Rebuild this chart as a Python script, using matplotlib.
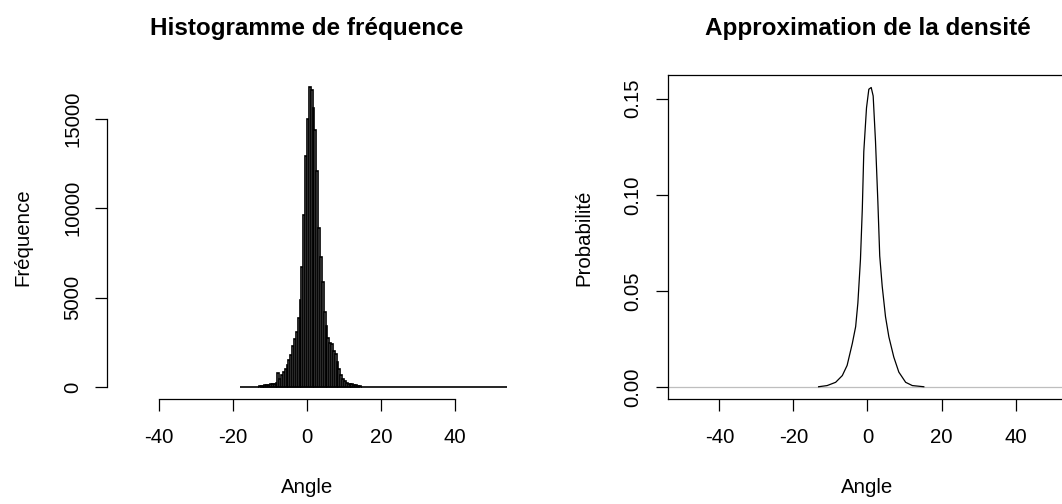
import numpy as np
import matplotlib

matplotlib.use("Agg")
import matplotlib.pyplot as plt

# Histogramme : bornes des classes (largeur 0.5) et effectifs
bin_start = -18.0
bin_end = 54.5
bin_width = 0.5
# effectifs non nuls, de -14.0 à 15.0
counts_left_edge = -14.0
counts = [
    20, 40, 60, 80, 90, 110, 120, 140, 170, 200, 210, 240,
    780, 460, 700, 880, 1050, 1250, 1550, 1800, 2300, 2700, 3100, 3850,
    4900, 6700, 9600, 12900, 15000, 16750, 16600, 15600, 14400, 12100,
    8900, 7300, 5900, 4200, 3450, 2750, 2500, 2400, 2050, 1850, 1400,
    1000, 700, 450, 330, 250, 210, 190, 170, 150, 130, 90, 60, 30,
]

# Densité estimée : points
dens_x = [-13.2, -10.9, -8.6, -6.8, -5.5, -4.1, -3.2, -2.6, -1.9, -1.4, -1.0,
          -0.27, 0.36, 1.0, 1.53, 2.16, 2.8, 3.3, 3.97, 4.86, 5.77, 7.1, 8.46,
          10.3, 12.1, 15.2]
dens_y = [0.0003, 0.0009, 0.0026, 0.0061, 0.0114, 0.0228, 0.0315, 0.0438,
          0.0665, 0.0928, 0.1225, 0.1452, 0.1549, 0.1558, 0.1514, 0.1278,
          0.0963, 0.0683, 0.0525, 0.0367, 0.0262, 0.0157, 0.0079, 0.0026,
          0.0009, 0.0003]

x_ticks = [-40, -20, 0, 20, 40]
hist_y_ticks = [0, 5000, 10000, 15000]
dens_y_ticks = [0.00, 0.05, 0.10, 0.15]

plt.rcParams.update(
    {
        "font.family": "Liberation Sans",
        "font.size": 14.7,
        "axes.unicode_minus": False,
        "axes.linewidth": 0.9,
        "xtick.major.size": 8.9,
        "ytick.major.size": 8.9,
        "xtick.major.width": 0.9,
        "ytick.major.width": 0.9,
        "xtick.direction": "out",
        "ytick.direction": "out",
    }
)

W, H = 1062, 504
fig = plt.figure(figsize=(W / 100, H / 100), dpi=100)

top_px, bottom_px = 75.5, 399.3
ax_h = (bottom_px - top_px) / H
ax_b = (H - bottom_px) / H
ax1 = fig.add_axes([107 / W, ax_b, 400 / W, ax_h])
ax2 = fig.add_axes([667.5 / W, ax_b, 400 / W, ax_h])

xlim = (-54, 54)

# --- Histogramme
edges = np.arange(bin_start, bin_end + bin_width / 2, bin_width)
heights = np.zeros(len(edges) - 1)
i0 = int(round((counts_left_edge - bin_start) / bin_width))
heights[i0:i0 + len(counts)] = counts
ax1.bar(edges[:-1], heights, width=bin_width, align="edge",
        facecolor="white", edgecolor="black", linewidth=1.2)
ax1.set_xlim(*xlim)
peak = max(counts)
ax1.set_ylim(-0.04 * peak, 1.04 * peak)
for s in ["top", "right"]:
    ax1.spines[s].set_visible(False)
ax1.spines["bottom"].set_bounds(x_ticks[0], x_ticks[-1])
ax1.spines["left"].set_bounds(hist_y_ticks[0], hist_y_ticks[-1])
ax1.set_xticks(x_ticks)
ax1.set_yticks(hist_y_ticks)
ax1.tick_params(axis="x", pad=12)
ax1.tick_params(axis="y", pad=9)
for lab in ax1.get_yticklabels():
    lab.set_rotation(90)
    lab.set_va("center")
ax1.set_xlabel("Angle", labelpad=22)
ax1.set_ylabel("Fréquence", labelpad=22)
ax1.set_title("Histogramme de fréquence", fontsize=17.5, fontweight="bold", pad=29)

# --- Densité
ax2.axhline(0, color="#bebebe", linewidth=0.9, zorder=1)
ax2.plot(dens_x, dens_y, color="black", linewidth=0.9, zorder=2)
ax2.set_xlim(*xlim)
dmax = max(dens_y)
ax2.set_ylim(-0.04 * dmax, 1.04 * dmax)
ax2.set_xticks(x_ticks)
ax2.set_yticks(dens_y_ticks)
ax2.set_yticklabels(["0.00", "0.05", "0.10", "0.15"])
ax2.tick_params(axis="x", pad=12)
ax2.tick_params(axis="y", pad=9)
for lab in ax2.get_yticklabels():
    lab.set_rotation(90)
    lab.set_va("center")
ax2.set_xlabel("Angle", labelpad=22)
ax2.set_ylabel("Probabilité", labelpad=22)
ax2.set_title("Approximation de la densité", fontsize=17.5, fontweight="bold", pad=29)

fig.savefig("out.png", dpi=100)
